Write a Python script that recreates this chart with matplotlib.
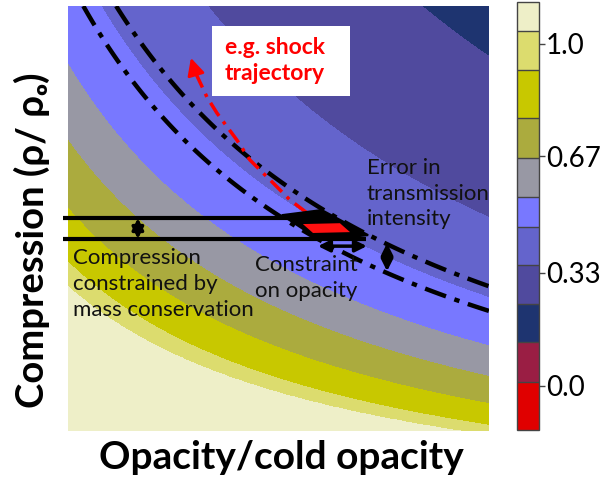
import numpy as np
import matplotlib.pyplot as plt
from matplotlib.patches import Polygon, Rectangle

plt.rcParams['font.family'] = ['Lato', 'DejaVu Sans']

# axis ranges (opacity ratio, compression ratio)
opacity_range = [0.671, 1.671]
compression_range = [0.244, 1.244]

# colour bar bands, bottom to top
band_edges = [-0.130, 0.010, 0.127, 0.238, 0.352, 0.463, 0.551, 0.665, 0.782, 0.922, 1.036, 1.121]
band_colors = ['#E00000', '#9A1E44', '#1E3470', '#504A9E', '#6464CC', '#7878FF',
               '#9898A4', '#ABAB3E', '#C8C800', '#DCDC6E', '#EEEFC8']
cbar_ticks = [0.0, 0.33, 0.67, 1.0]
cbar_ticklabels = ['0.0', '0.33', '0.67', '1.0']

# opacity*compression product at the band boundaries seen in the map
product_at_edge = [0.10, 0.392, 0.430, 0.515, 0.622, 0.742, 0.932, 1.247, 1.880, 2.600]
value_at_edge = [1.121, 1.036, 0.922, 0.782, 0.665, 0.551, 0.463, 0.352, 0.238, 0.150]

# measured transmission +- error (dash-dot curves)
error_band = [0.880, 0.977]

# mass conservation limits on compression
mass_y = [0.745, 0.696]
mass_x_end = [1.222, 1.379]
mass_x_start = 0.659

# constraint box
box_outer_x = [1.179, 1.274, 1.384, 1.270]
box_outer_y = [0.752, 0.764, 0.705, 0.693]
box_inner_x = [1.229, 1.317, 1.341, 1.253]
box_inner_y = [0.731, 0.733, 0.712, 0.710]

# example shock trajectory
shock_x = [1.239, 1.198, 1.158, 1.103, 1.072, 1.025, 1.001, 0.973]
shock_y = [0.757, 0.788, 0.828, 0.882, 0.929, 0.992, 1.030, 1.089]
shock_tip = (0.963, 1.122)

fig = plt.figure(figsize=(6.1, 4.84), dpi=100)
ax = fig.add_axes([0.1115, 0.1095, 0.690, 0.878])
cax = fig.add_axes([0.8475, 0.1116, 0.036, 0.884])

xg = np.linspace(opacity_range[0], opacity_range[1], 500)
yg = np.linspace(compression_range[0], compression_range[1], 500)
X, Y = np.meshgrid(xg, yg)
C = X * Y
T = np.interp(C, product_at_edge, value_at_edge)

cf = ax.contourf(X, Y, T, levels=band_edges, colors=band_colors, antialiased=False)
ax.contour(X, Y, C, levels=error_band, colors='k', linewidths=3.2,
           linestyles=[(0, (5, 2, 1.2, 2))])

# compression limits
for yy, xe in zip(mass_y, mass_x_end):
    ax.plot([mass_x_start, xe], [yy, yy], color='k', lw=3, clip_on=False, solid_capstyle='butt')

ax.add_patch(Polygon(list(zip(box_outer_x, box_outer_y)), closed=True, facecolor='k',
                     edgecolor='k', lw=1.5, zorder=4))
ax.add_patch(Polygon(list(zip(box_inner_x, box_inner_y)), closed=True, facecolor='#FF1010',
                     edgecolor='none', zorder=5))

# shock trajectory
ax.plot(shock_x, shock_y, color='#FF0000', lw=2.5, linestyle=(0, (4.5, 2, 1, 2)), zorder=3)
ax.annotate('', xy=shock_tip, xytext=(shock_x[-1], shock_y[-1]),
            arrowprops=dict(arrowstyle='-|>', color='#FF0000', lw=2, mutation_scale=26,
                            shrinkA=0, shrinkB=0), zorder=3)

# double arrows
arrow_kw = dict(arrowstyle='<|-|>', color='k', lw=2.5, mutation_scale=17, shrinkA=0, shrinkB=0)
ax.annotate('', xy=(0.837, mass_y[0]), xytext=(0.837, mass_y[1]), arrowprops=arrow_kw, zorder=6)
ax.annotate('', xy=(1.265, 0.679), xytext=(1.381, 0.679), arrowprops=arrow_kw, zorder=6)
ax.annotate('', xy=(1.429, 0.686), xytext=(1.429, 0.620), arrowprops=arrow_kw, zorder=6)

# labels inside the map
ax.add_patch(Rectangle((1.013, 1.032), 0.328, 0.165, facecolor='white', edgecolor='none', zorder=6))
ax.text(1.044, 1.115, 'e.g. shock\ntrajectory', color='#FF0000', fontsize=16.5, fontweight='bold',
        ha='left', va='center', zorder=7, linespacing=1.28)
ax.text(1.381, 0.802, 'Error in\ntransmission\nintensity', color='#111111', fontsize=16,
        ha='left', va='center', zorder=7, linespacing=1.35)
ax.text(0.683, 0.590, 'Compression\nconstrained by\nmass conservation', color='#111111', fontsize=16,
        ha='left', va='center', zorder=7, linespacing=1.35)
ax.text(1.115, 0.604, 'Constraint\non opacity', color='#111111', fontsize=16,
        ha='left', va='center', zorder=7, linespacing=1.35)

ax.set_xlim(opacity_range)
ax.set_ylim(compression_range)
ax.set_xticks([])
ax.set_yticks([])
for s in ax.spines.values():
    s.set_visible(False)

ax.set_xlabel('Opacity/cold opacity', fontsize=28, fontweight='bold', va='center')
ax.xaxis.set_label_coords(0.508, -0.0635)
ax.set_ylabel('Compression (ρ/ ρₒ)', fontsize=27.5, fontweight='bold', va='center')
ax.yaxis.set_label_coords(-0.086, 0.45)

cb = fig.colorbar(cf, cax=cax, spacing='proportional', drawedges=True, ticks=cbar_ticks)
cb.ax.set_yticklabels(cbar_ticklabels)
cb.outline.set_edgecolor('#444444')
cb.outline.set_linewidth(1)
cb.dividers.set_color('#444444')
cb.dividers.set_linewidth(1)
cax.tick_params(labelsize=20, length=4, width=1, pad=1, color='#444444')

fig.savefig('out.png', dpi=100)
